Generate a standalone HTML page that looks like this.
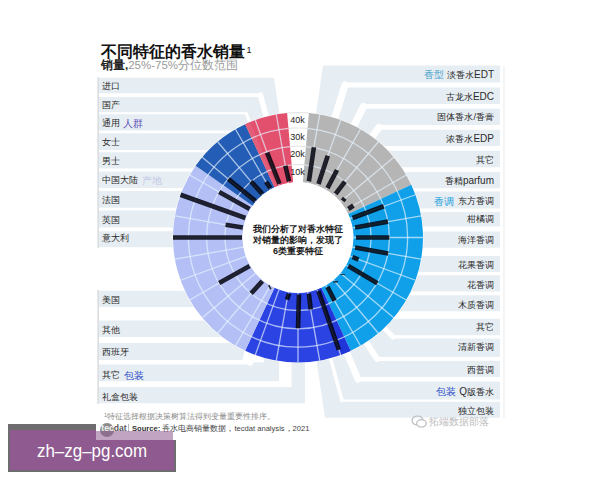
<!DOCTYPE html><html><head><meta charset="utf-8"><style>
*{margin:0;padding:0}
html,body{width:600px;height:480px;overflow:hidden;background:#fff}
body{position:relative;font-family:"Liberation Sans",sans-serif;color:#222}
svg text{font-family:"Liberation Sans",sans-serif}
.t{position:absolute;white-space:nowrap;line-height:1}
.lab{font-size:9px;color:#2a2a2a}
.cat{font-size:10px}
.lt{font-size:10px}
</style></head><body>
<svg width="600" height="480" viewBox="0 0 600 480" style="position:absolute;left:0;top:0">
<g><path d="M94.0,77.7 L274,77.7 L298.0,237.5 L305,237.5 L305,403.3 L94.0,403.3 Z" fill="#e7eef3"/><path d="M505.0,65.6 L323,65.6 L298.0,237.5 L325,417.7 L505.0,417.7 Z" fill="#e7eef3"/><path d="M89,95.1 L260.5,95.1 L298.0,237.5" stroke="#fff" stroke-width="3.6" fill="none" stroke-linejoin="miter" stroke-miterlimit="50"/><path d="M260.5,95.1 L298.0,237.5" stroke="#fff" stroke-width="5.4" fill="none" stroke-linecap="round"/><path d="M89,113.2 L246,113.2 L298.0,237.5" stroke="#fff" stroke-width="2" fill="none" stroke-linejoin="miter" stroke-miterlimit="50"/><path d="M246,113.2 L298.0,237.5" stroke="#fff" stroke-width="3" fill="none" stroke-linecap="round"/><path d="M89,131.9 L241.11,131.9 L298.0,237.5" stroke="#fff" stroke-width="2.6" fill="none" stroke-linejoin="miter" stroke-miterlimit="50"/><path d="M89,151.1 L217.67,151.1 L298.0,237.5" stroke="#fff" stroke-width="2.2" fill="none" stroke-linejoin="miter" stroke-miterlimit="50"/><path d="M89,170.1 L202.73,170.1 L298.0,237.5" stroke="#fff" stroke-width="3" fill="none" stroke-linejoin="miter" stroke-miterlimit="50"/><path d="M89,189.55 L192.56,189.55 L298.0,237.5" stroke="#fff" stroke-width="2.9" fill="none" stroke-linejoin="miter" stroke-miterlimit="50"/><path d="M89,209.2 L186.25,209.2 L298.0,237.5" stroke="#fff" stroke-width="2.8" fill="none" stroke-linejoin="miter" stroke-miterlimit="50"/><path d="M89,229.4 L183.26,229.4 L298.0,237.5" stroke="#fff" stroke-width="3.8" fill="none" stroke-linejoin="miter" stroke-miterlimit="50"/><path d="M89,269 L187.03,269 L298.0,237.5" stroke="#fff" stroke-width="43.6" fill="none" stroke-linejoin="miter" stroke-miterlimit="50"/><path d="M89,313.8 L208.99,313.8 L298.0,237.5" stroke="#fff" stroke-width="13.6" fill="none" stroke-linejoin="miter" stroke-miterlimit="50"/><path d="M89,339.95 L236.38,339.95 L298.0,237.5" stroke="#fff" stroke-width="5.9" fill="none" stroke-linejoin="miter" stroke-miterlimit="50"/><path d="M89,362.3 L250,362.3 L298.0,237.5" stroke="#fff" stroke-width="4.6" fill="none" stroke-linejoin="miter" stroke-miterlimit="50"/><path d="M250,362.3 L298.0,237.5" stroke="#fff" stroke-width="6.9" fill="none" stroke-linecap="round"/><path d="M510,85 L345,85 L298.0,237.5" stroke="#fff" stroke-width="4.8" fill="none" stroke-linejoin="miter" stroke-miterlimit="50"/><path d="M345,85 L298.0,237.5" stroke="#fff" stroke-width="7.2" fill="none" stroke-linecap="round"/><path d="M510,106.4 L363.5,106.4 L298.0,237.5" stroke="#fff" stroke-width="4.8" fill="none" stroke-linejoin="miter" stroke-miterlimit="50"/><path d="M363.5,106.4 L298.0,237.5" stroke="#fff" stroke-width="7.2" fill="none" stroke-linecap="round"/><path d="M510,127.35 L379,127.35 L298.0,237.5" stroke="#fff" stroke-width="4.7" fill="none" stroke-linejoin="miter" stroke-miterlimit="50"/><path d="M379,127.35 L298.0,237.5" stroke="#fff" stroke-width="7.05" fill="none" stroke-linecap="round"/><path d="M510,148.4 L375.67,148.4 L298.0,237.5" stroke="#fff" stroke-width="4.8" fill="none" stroke-linejoin="miter" stroke-miterlimit="50"/><path d="M510,169.55 L392.92,169.55 L298.0,237.5" stroke="#fff" stroke-width="4.7" fill="none" stroke-linejoin="miter" stroke-miterlimit="50"/><path d="M510,189.95 L403.6,189.95 L298.0,237.5" stroke="#fff" stroke-width="3.3" fill="none" stroke-linejoin="miter" stroke-miterlimit="50"/><path d="M510,210.3 L410,210.3 L298.0,237.5" stroke="#fff" stroke-width="3.4" fill="none" stroke-linejoin="miter" stroke-miterlimit="50"/><path d="M510,229.05 L412.71,229.05 L298.0,237.5" stroke="#fff" stroke-width="5.1" fill="none" stroke-linejoin="miter" stroke-miterlimit="50"/><path d="M510,251.85 L412.17,251.85 L298.0,237.5" stroke="#fff" stroke-width="8.3" fill="none" stroke-linejoin="miter" stroke-miterlimit="50"/><path d="M510,273.65 L407.66,273.65 L298.0,237.5" stroke="#fff" stroke-width="3.3" fill="none" stroke-linejoin="miter" stroke-miterlimit="50"/><path d="M510,293.45 L399.78,293.45 L298.0,237.5" stroke="#fff" stroke-width="3.7" fill="none" stroke-linejoin="miter" stroke-miterlimit="50"/><path d="M510,315 L386.08,315 L298.0,237.5" stroke="#fff" stroke-width="7.4" fill="none" stroke-linejoin="miter" stroke-miterlimit="50"/><path d="M510,336.9 L393,336.9 L298.0,237.5" stroke="#fff" stroke-width="3.4" fill="none" stroke-linejoin="miter" stroke-miterlimit="50"/><path d="M393,336.9 L298.0,237.5" stroke="#fff" stroke-width="5.1" fill="none" stroke-linecap="round"/><path d="M510,358.95 L377,358.95 L298.0,237.5" stroke="#fff" stroke-width="3.9" fill="none" stroke-linejoin="miter" stroke-miterlimit="50"/><path d="M377,358.95 L298.0,237.5" stroke="#fff" stroke-width="5.85" fill="none" stroke-linecap="round"/><path d="M510,379.25 L358,379.25 L298.0,237.5" stroke="#fff" stroke-width="4.5" fill="none" stroke-linejoin="miter" stroke-miterlimit="50"/><path d="M358,379.25 L298.0,237.5" stroke="#fff" stroke-width="6.75" fill="none" stroke-linecap="round"/><path d="M510,400.55 L342,400.55 L298.0,237.5" stroke="#fff" stroke-width="2.3" fill="none" stroke-linejoin="miter" stroke-miterlimit="50"/><path d="M342,400.55 L298.0,237.5" stroke="#fff" stroke-width="3.45" fill="none" stroke-linecap="round"/><path d="M242,362.3 L264,362.3 L264,330 L248.5,330 Z" fill="#fff"/><path d="M89.0,381.3 L279,381.3 L279,237.5 L291.5,237.5 L291.5,387 L89.0,387 Z" fill="#fff"/></g>
<rect x="0" y="0" width="99.0" height="480" fill="#fff"/>
<rect x="500.0" y="0" width="100" height="480" fill="#fff"/>
<rect x="97.6" y="77" width="1" height="171" fill="#c4c8cc"/>
<rect x="97.6" y="290" width="1" height="114" fill="#c4c8cc"/>
<rect x="503.5" y="66" width="1" height="352" fill="#e6e9ec"/>
<circle cx="298.0" cy="237.5" r="125.5" fill="#fff"/>
<path d="M291.64,164.78 A73.0,73.0 0 0 1 304.36,164.78" stroke="#e4e4e4" stroke-width="1" fill="none"/>
<path d="M290.04,146.55 A91.3,91.3 0 0 1 305.96,146.55" stroke="#e4e4e4" stroke-width="1" fill="none"/>
<path d="M288.45,128.32 A109.6,109.6 0 0 1 307.55,128.32" stroke="#e4e4e4" stroke-width="1" fill="none"/>
<path d="M287.11,112.98 A125.0,125.0 0 0 1 308.89,112.98" stroke="#e4e4e4" stroke-width="1" fill="none"/>
<path d="M308.89,112.98 A125.0,125.0 0 0 1 411.29,184.67 L348.3,214.04 A55.5,55.5 0 0 0 302.84,182.21 Z" fill="#b5b5b5"/>
<path d="M411.29,184.67 A125.0,125.0 0 0 1 350.83,350.79 L321.46,287.8 A55.5,55.5 0 0 0 348.3,214.04 Z" fill="#0fa0e9"/>
<path d="M350.83,350.79 A125.0,125.0 0 0 1 245.17,350.79 L274.54,287.8 A55.5,55.5 0 0 0 321.46,287.8 Z" fill="#2b43e2"/>
<path d="M245.17,350.79 A125.0,125.0 0 0 1 195.61,165.8 L252.54,205.67 A55.5,55.5 0 0 0 274.54,287.8 Z" fill="#b4c0f5"/>
<path d="M195.61,165.8 A125.0,125.0 0 0 1 245.17,124.21 L274.54,187.2 A55.5,55.5 0 0 0 252.54,205.67 Z" fill="#235db5"/>
<path d="M245.17,124.21 A125.0,125.0 0 0 1 287.11,112.98 L293.16,182.21 A55.5,55.5 0 0 0 274.54,187.2 Z" fill="#e2506e"/>
<path d="M350.23,351.06 A125.0,125.0 0 0 1 340.75,354.96 L316.98,289.65 A55.5,55.5 0 0 0 321.19,287.92 Z" fill="#2136d8"/>
<path d="M245.17,124.21 A125.0,125.0 0 0 1 250.16,122.02 L276.76,186.22 A55.5,55.5 0 0 0 274.54,187.2 Z" fill="#e4607a" opacity="0.8"/>
<g stroke="#e8f3ff" stroke-opacity="0.68" stroke-width="1.3" fill="none"><path d="M304.36,164.78 A73.0,73.0 0 1 1 291.64,164.78"/><path d="M305.96,146.55 A91.3,91.3 0 1 1 290.04,146.55"/><path d="M307.55,128.32 A109.6,109.6 0 1 1 288.45,128.32"/><path d="M307.64,182.84 L319.71,114.4"/><path d="M316.98,185.35 L340.75,120.04"/><path d="M325.75,189.44 L360.5,129.25"/><path d="M333.67,194.98 L378.35,141.74"/><path d="M340.52,201.83 L393.76,157.15"/><path d="M346.06,209.75 L406.25,175"/><path d="M350.15,218.52 L415.46,194.75"/><path d="M352.66,227.86 L421.1,215.79"/><path d="M353.5,237.5 L423,237.5"/><path d="M352.66,247.14 L421.1,259.21"/><path d="M350.15,256.48 L415.46,280.25"/><path d="M346.06,265.25 L406.25,300"/><path d="M340.52,273.17 L393.76,317.85"/><path d="M333.67,280.02 L378.35,333.26"/><path d="M325.75,285.56 L360.5,345.75"/><path d="M316.98,289.65 L340.75,354.96"/><path d="M307.64,292.16 L319.71,360.6"/><path d="M298,293 L298,362.5"/><path d="M288.36,292.16 L276.29,360.6"/><path d="M279.02,289.65 L255.25,354.96"/><path d="M270.25,285.56 L235.5,345.75"/><path d="M262.33,280.02 L217.65,333.26"/><path d="M255.48,273.17 L202.24,317.85"/><path d="M249.94,265.25 L189.75,300"/><path d="M245.85,256.48 L180.54,280.25"/><path d="M243.34,247.14 L174.9,259.21"/><path d="M242.5,237.5 L173,237.5"/><path d="M243.34,227.86 L174.9,215.79"/><path d="M245.85,218.52 L180.54,194.75"/><path d="M249.94,209.75 L189.75,175"/><path d="M255.48,201.83 L202.24,157.15"/><path d="M262.33,194.98 L217.65,141.74"/><path d="M270.25,189.44 L235.5,129.25"/><path d="M279.02,185.35 L255.25,120.04"/><path d="M288.36,182.84 L276.29,114.4"/></g>
<circle cx="297.7" cy="237.5" r="55" fill="#fff"/>
<g stroke="#02040e" stroke-opacity="0.86" stroke-width="4.6" fill="none"><path d="M308.9,181.37 L313.91,147.29"/><path d="M318.5,183.94 L327.76,155.75"/><path d="M327.5,188.14 L337,169.95"/><path d="M335.64,193.84 L344.92,181.58"/><path d="M342.66,200.86 L344.73,198.29"/><path d="M348.36,209 L353.43,205.5"/><path d="M352.56,218 L383.79,206.27"/><path d="M355.13,227.6 L388.01,221.63"/><path d="M356,237.5 L389.4,237.5"/><path d="M355.13,247.4 L388.21,253.41"/><path d="M352.56,257 L358.52,259.53"/><path d="M348.36,266 L377.33,283.3"/><path d="M342.66,274.14 L342.66,274.97"/><path d="M335.64,281.16 L335.73,282.47"/><path d="M327.5,286.86 L334.6,300.89"/><path d="M318.5,291.06 L338.84,349.7"/><path d="M308.9,293.63 L310.68,309.39"/><path d="M299,294.5 L298,328.3"/><path d="M289.1,293.63 L287.01,299.84"/><path d="M270.5,286.86 L269.1,287.56"/><path d="M262.36,281.16 L251.08,293.42"/><path d="M249.64,266 L219.19,283"/><path d="M242,237.5 L173,237.5"/><path d="M242.87,227.6 L225.52,224.72"/><path d="M245.44,218 L180.54,194.75"/><path d="M249.64,209 L219.19,192"/><path d="M255.34,200.86 L228.37,179.07"/><path d="M262.36,193.84 L251.01,181.5"/><path d="M270.5,188.14 L265.95,181.99"/><path d="M279.5,183.94 L267.12,152.65"/><path d="M289.1,181.37 L285.34,165.71"/></g>
<text x="297.5" y="174.6" text-anchor="middle" font-size="9" fill="#222">10k</text>
<text x="297.5" y="157.3" text-anchor="middle" font-size="9" fill="#222">20k</text>
<text x="297.5" y="140.3" text-anchor="middle" font-size="9" fill="#222">30k</text>
<text x="297.5" y="123.1" text-anchor="middle" font-size="9" fill="#222">40k</text>
</svg>
<div class="t lab" style="left:102px;top:81.9px">进口</div>
<div class="t lab" style="left:102px;top:100.7px">国产</div>
<div class="t lab" style="left:102px;top:119px">通用</div>
<div class="t cat" style="left:123.3px;top:118.7px;color:#5b4bb5">人群</div>
<div class="t lab" style="left:102px;top:137.8px">女士</div>
<div class="t lab" style="left:102px;top:156.7px">男士</div>
<div class="t lab" style="left:102px;top:176.2px">中国大陆</div>
<div class="t cat" style="left:142px;top:175.9px;color:#c3c9e6">产地</div>
<div class="t lab" style="left:102px;top:196.1px">法国</div>
<div class="t lab" style="left:102px;top:216px">英国</div>
<div class="t lab" style="left:102px;top:233.9px">意大利</div>
<div class="t lab" style="left:102px;top:295.5px">美国</div>
<div class="t lab" style="left:102px;top:325.8px">其他</div>
<div class="t lab" style="left:102px;top:348.3px">西班牙</div>
<div class="t lab" style="left:102px;top:371.3px">其它</div>
<div class="t cat" style="left:123.5px;top:371px;color:#3553c6">包装</div>
<div class="t lab" style="left:102px;top:392.5px">礼盒包装</div>
<div class="t lab" style="right:106px;top:70.1px">淡香水<span class="lt">EDT</span></div>
<div class="t cat" style="left:424px;top:69.8px;color:#4ba3cb">香型</div>
<div class="t lab" style="right:106px;top:92px">古龙水<span class="lt">EDC</span></div>
<div class="t lab" style="right:106px;top:112.9px">固体香水/香膏</div>
<div class="t lab" style="right:106px;top:134.4px">浓香水<span class="lt">EDP</span></div>
<div class="t lab" style="right:106px;top:156px">其它</div>
<div class="t lab" style="right:106px;top:175.7px">香精<span class="lt">parfum</span></div>
<div class="t lab" style="right:106px;top:197px">东方香调</div>
<div class="t cat" style="left:433.7px;top:196.7px;color:#1ba2e0">香调</div>
<div class="t lab" style="right:106px;top:214.6px">柑橘调</div>
<div class="t lab" style="right:106px;top:235.5px">海洋香调</div>
<div class="t lab" style="right:106px;top:260.9px">花果香调</div>
<div class="t lab" style="right:106px;top:281.1px">花香调</div>
<div class="t lab" style="right:106px;top:300.7px">木质香调</div>
<div class="t lab" style="right:106px;top:323px">其它</div>
<div class="t lab" style="right:106px;top:343.2px">清新香调</div>
<div class="t lab" style="right:106px;top:365.6px">西普调</div>
<div class="t lab" style="right:106px;top:387.2px"><span class="lt">Q</span>版香水</div>
<div class="t cat" style="left:435.6px;top:386.9px;color:#3553c6">包装</div>
<div class="t lab" style="right:106px;top:406.6px">独立包装</div>
<div class="t" style="left:101px;top:44px;font-size:15.5px;font-weight:600;color:#111">不同特征的香水销量<span style="font-size:9px;font-weight:normal;position:relative;top:-4.5px;left:1.5px">1</span></div>
<div class="t" style="left:101px;top:59.5px;font-size:11.5px;color:#9a9a9a"><b style="color:#222">销量,</b>25%-75%分位数范围</div>
<div class="t" style="left:248px;top:223.5px;width:100px;text-align:center;font-size:9px;line-height:11px;font-weight:bold;color:#1a1a1a;white-space:normal">我们分析了对香水特征<br>对销量的影响，发现了<br>6类重要特征</div>
<div class="t" style="left:104px;top:413.3px;font-size:8px;color:#8a8a8a"><span style="font-size:5.5px;vertical-align:2px">1</span>特征选择根据决策树算法得到变量重要性排序。</div>
<div style="position:absolute;left:100px;top:422.8px;width:14.4px;height:14.4px;border-radius:50%;background:#8c8c8c"></div>
<div class="t" style="left:101.3px;top:424px;font-size:8.6px;font-weight:bold;color:#5a5a5a"><span style="color:#f2f2f2">tec</span>dat</div>
<div style="position:absolute;left:128px;top:424px;width:0.8px;height:8px;background:#bbb"></div>
<div class="t" style="left:132px;top:425.2px;font-size:7.6px;color:#444"><b style="color:#333">Source:</b> 香水电商销量数据，tecdat analysis，2021</div>
<div class="t" style="left:429px;top:416.5px;font-size:10px;color:#bcbcbc">拓端数据部落</div>
<svg style="position:absolute;left:411px;top:415px" width="17" height="13"><ellipse cx="6.5" cy="5.5" rx="5.5" ry="4.5" fill="none" stroke="#bcbcbc" stroke-width="1.2"/><ellipse cx="10.5" cy="8.3" rx="4.8" ry="3.7" fill="#fff" stroke="#bcbcbc" stroke-width="1.2"/></svg>
<div style="position:absolute;left:8px;top:424px;width:88px;height:48px;background:#6f6c6f"></div>
<div style="position:absolute;left:8px;top:440px;width:168px;height:32px;background:#6f6c6f"></div>
<div style="position:absolute;left:10px;top:429.6px;width:86px;height:40.4px;background:#8e5a8f"></div>
<div style="position:absolute;left:96px;top:440px;width:78px;height:30px;background:#8e5a8f"></div>
<div style="position:absolute;left:96px;top:430.6px;width:77.2px;height:9.4px;background:rgba(142,90,143,0.55)"></div>
<div class="t" style="left:37px;top:441.5px;font-size:18px;color:#fff;transform:scaleX(0.94);transform-origin:0 0">zh–zg–pg.com</div>
</body></html>
